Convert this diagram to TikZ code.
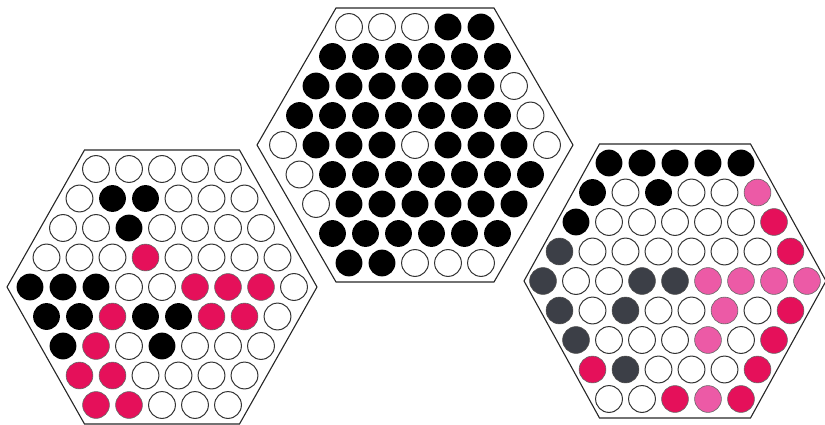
\documentclass[tikz,border=0pt]{standalone}
\usepackage{tikz}
\usetikzlibrary{calc}

\definecolor{pegred}{HTML}{E5105A}
\definecolor{pegpink}{HTML}{EC5AA6}
\definecolor{peggrey}{HTML}{3C3F47}

\tikzset{
  boardedge/.style={draw=black!85, line width=1.1pt},
  pegw/.style={draw=black!80, fill=white, line width=1pt},
  pegb/.style={fill=black},
  pegg/.style={fill=peggrey, draw=black!70, line width=0.6pt},
  pegr/.style={fill=pegred, draw=black!60, line width=0.6pt},
  pegp/.style={fill=pegpink, draw=black!60, line width=0.6pt}
}

% board: centre x, centre y, half width, rows of pegs
\newcommand{\pegboard}[4]{%
  \draw[boardedge] (#1-#3,#2) -- ({#1-#3/2},#2-137) -- ({#1+#3/2},#2-137)
    -- (#1+#3,#2) -- ({#1+#3/2},#2+137) -- ({#1-#3/2},#2+137) -- cycle;
  \foreach \row [count=\r] in {#4}{
    \pgfmathtruncatemacro\n{9-abs(\r-5)}
    \foreach \c [count=\k] in \row
      \path[peg\c] ({#1+(\k-(\n+1)/2)*33},{#2+(\r-5)*29.5}) circle (13.4);
  }%
}

\begin{document}
\begin{tikzpicture}[x=1pt, y=-1pt]
  \useasboundingbox (0,0) rectangle (825,425);

  % middle board
  \pegboard{415}{145}{158}{
    {w,w,w,b,b},
    {b,b,b,b,b,b},
    {b,b,b,b,b,b,w},
    {b,b,b,b,b,b,b,w},
    {w,b,b,b,w,b,b,b,w},
    {w,b,b,b,b,b,b,b},
    {w,b,b,b,b,b,b},
    {b,b,b,b,b,b},
    {b,b,w,w,w}}

  % left board
  \pegboard{162}{287}{155}{
    {w,w,w,w,w},
    {w,b,b,w,w,w},
    {w,w,b,w,w,w,w},
    {w,w,w,r,w,w,w,w},
    {b,b,b,w,w,r,r,r,w},
    {b,b,r,b,b,r,r,w},
    {b,r,w,b,w,w,w},
    {r,r,w,w,w,w},
    {r,r,w,w,w}}

  % right board
  \pegboard{675}{281}{151}{
    {b,b,b,b,b},
    {b,w,b,w,w,p},
    {b,w,w,w,w,w,r},
    {g,w,w,w,w,w,w,r},
    {g,w,w,g,g,p,p,p,p},
    {g,w,g,w,w,p,w,r},
    {g,w,w,w,p,w,r},
    {r,g,w,w,w,r},
    {w,w,r,p,r}}
\end{tikzpicture}
\end{document}
